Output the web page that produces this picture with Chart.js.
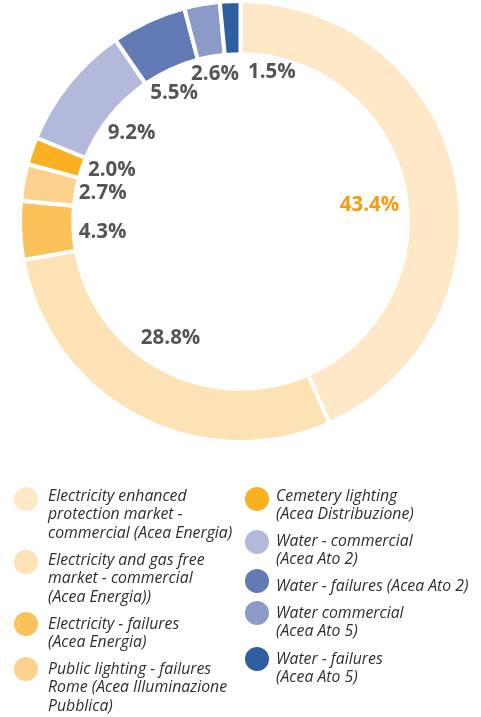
<!DOCTYPE html>
<html>
<head>
<meta charset="utf-8">
<script src="https://cdn.jsdelivr.net/npm/chart.js@4"></script>
<style>
  html, body { margin: 0; padding: 0; background: #fff; }
  body { width: 481px; height: 717px; position: relative; overflow: hidden; }
  #wrap { position: absolute; left: 0; top: 0; width: 481px; height: 443px; }
  #legend { position: absolute; left: 0; top: 0; width: 481px; height: 717px; pointer-events: none;
            font-family: "Open Sans", sans-serif; font-style: italic; font-size: 15.8px; line-height: 18.5px; color: #2e2e2e; }
  .item { position: absolute; }
  .dot { position: absolute; width: 24px; height: 24px; border-radius: 50%; }
  .txt { position: absolute; white-space: nowrap; }
</style>
</head>
<body>
<div id="wrap"><canvas id="c"></canvas></div>
<div id="legend"></div>
<script>
// ---- data ----
const categories = [
  ["Electricity enhanced", "protection market -", "commercial (Acea Energia)"],
  ["Electricity and gas free", "market - commercial", "(Acea Energia))"],
  ["Electricity - failures", "(Acea Energia)"],
  ["Public lighting - failures", "Rome (Acea Illuminazione", "Pubblica)"],
  ["Cemetery lighting", "(Acea Distribuzione)"],
  ["Water - commercial", "(Acea Ato 2)"],
  ["Water - failures (Acea Ato 2)"],
  ["Water commercial", "(Acea Ato 5)"],
  ["Water - failures", "(Acea Ato 5)"]
];
const shares = [43.4, 28.8, 4.3, 2.7, 2.0, 9.2, 5.5, 2.6, 1.5];
const sliceColors = ["#FEE8C7", "#FDE2B6", "#FBC25C", "#FCD28E", "#F9B122", "#B2B9DB", "#627BB5", "#8C9AC8", "#2E5E9F"];

// ---- label placement tweaks (layout only) ----
const labelRadius = 140;
const labelNudge = [[-8, 12], [-4, -7], [2, 5], [0, -3], [4, -6], [0, 0], [-8, -1], [-1, -10], [38, -9]];

const labelPlugin = {
  id: 'sliceLabels',
  afterDatasetsDraw(chart) {
    const ctx = chart.ctx;
    const meta = chart.getDatasetMeta(0);
    ctx.save();
    ctx.font = 'bold 20.5px "Open Sans", sans-serif';
    ctx.textAlign = 'center';
    ctx.textBaseline = 'middle';
    meta.data.forEach((arc, i) => {
      const p = arc.getProps(['x', 'y', 'startAngle', 'endAngle'], true);
      const mid = (p.startAngle + p.endAngle) / 2;
      const x = p.x + Math.cos(mid) * labelRadius + labelNudge[i][0];
      const y = p.y + Math.sin(mid) * labelRadius + labelNudge[i][1];
      ctx.fillStyle = i === 0 ? '#F39C12' : '#555555';
      ctx.fillText(shares[i].toFixed(1) + '%', x, y);
    });
    ctx.restore();
  }
};

const chart = new Chart(document.getElementById('c'), {
  type: 'doughnut',
  data: {
    labels: categories,
    datasets: [{
      data: shares,
      backgroundColor: sliceColors,
      borderColor: '#ffffff',
      borderWidth: 4,
      hoverOffset: 0
    }]
  },
  options: {
    responsive: true,
    maintainAspectRatio: false,
    animation: false,
    radius: 220.5,
    cutout: 166.5,
    rotation: 0,
    layout: { padding: 0 },
    plugins: { legend: { display: false }, tooltip: { enabled: false } }
  },
  plugins: [labelPlugin]
});

// ---- HTML legend built from the chart data ----
const legendPos = [
  [26, 499, 48, 495], [26, 562, 48, 559], [26, 624, 48, 623], [26, 669, 48, 668],
  [257, 499, 276, 495], [257, 542, 276, 540], [257, 581, 276, 585], [257, 613, 276, 612], [257, 659, 276, 658]
];
const legend = document.getElementById('legend');
chart.data.labels.forEach((lines, i) => {
  const [cx, cy, tx, ty] = legendPos[i];
  const dot = document.createElement('div');
  dot.className = 'dot';
  dot.style.left = (cx - 12) + 'px';
  dot.style.top = (cy - 12) + 'px';
  dot.style.background = chart.data.datasets[0].backgroundColor[i];
  legend.appendChild(dot);
  const t = document.createElement('div');
  t.className = 'txt';
  t.style.left = tx + 'px';
  t.style.top = (ty - 9.25) + 'px';
  t.innerHTML = lines.join('<br>');
  legend.appendChild(t);
});
</script>
</body>
</html>
